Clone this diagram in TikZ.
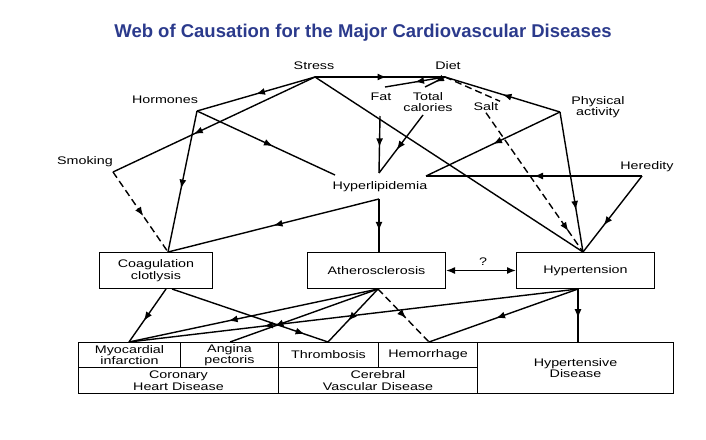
\documentclass[tikz,border=0pt]{standalone}
\usepackage{fontspec}
\setmainfont{Liberation Sans}[FakeStretch=1.3]
\newfontfamily\titlefont{Liberation Sans}
\usetikzlibrary{arrows.meta,decorations.markings}
\definecolor{titleblue}{HTML}{2B3A8C}
\begin{document}
\begin{tikzpicture}[x=1pt,y=-1pt,line width=1.4pt,
  lbl/.style={inner sep=0pt,font=\fontsize{11}{11.5}\selectfont,align=center},
  box/.style={draw,line width=1pt,inner sep=0pt,anchor=north west,font=\fontsize{11}{11.5}\selectfont,align=center},
  mid/.style={postaction={decorate,decoration={markings,mark=at position #1 with {\arrow{Latex[length=9pt,width=7pt]}}}}},
  mid/.default=0.5,
  both/.style={{Latex[length=9pt,width=7pt]}-{Latex[length=9pt,width=7pt]}},
  dsh/.style={dash pattern=on 7pt off 4pt}]
\useasboundingbox (0,0) rectangle (706,439);
\node[font=\titlefont\bfseries\fontsize{18.5}{20}\selectfont,text=titleblue] (title) at (363,33) {Web of Causation for the Major Cardiovascular Diseases};
% labels
\node[lbl] (stress) at (314,66) {Stress};
\node[lbl] (diet) at (448,66) {Diet};
\node[lbl] (hormones) at (165,100) {Hormones};
\node[lbl] (smoking) at (85,162) {Smoking};
\node[lbl] (fat) at (381,97) {Fat};
\node[lbl] (tcal) at (428,102) {Total\\calories};
\node[lbl,fill=white,inner sep=1pt] (salt) at (486,107) {Salt};
\node[lbl] (phys) at (598,107) {Physical\\activity};
\node[lbl] (hered) at (647,167) {Heredity};
\node[lbl] (hyperlip) at (380,187) {Hyperlipidemia};
\node[lbl] (q) at (483,262) {?};
% junctions
\coordinate (S) at (315,77);
\coordinate (D) at (445,77);
\coordinate (H) at (197,111);
\coordinate (Sm) at (113,172);
\coordinate (Fb) at (380,116);
\coordinate (Tc) at (423,115);
\coordinate (HLt) at (379,173);
\coordinate (HLh) at (335,175);
\coordinate (HLb) at (379,199);
\coordinate (PA) at (560,112);
\coordinate (HR) at (642,176);
\coordinate (HRl) at (426,176);
\coordinate (Fd) at (385,87);
\coordinate (Td) at (425,87);
% boxes
\node[box,minimum width=113pt,minimum height=36pt] (coag) at (99,252) {Coagulation\\clotlysis};
\node[box,minimum width=138pt,minimum height=36pt] (ath) at (307,252) {Atherosclerosis};
\node[box,minimum width=138pt,minimum height=36pt] (hyp) at (516,252) {Hypertension};
\node[box,minimum width=102pt,minimum height=25pt] (mi) at (78,342) {Myocardial\\infarction};
\node[box,minimum width=98pt,minimum height=25pt] (ang) at (180,342) {Angina\\pectoris};
\node[box,minimum width=100pt,minimum height=25pt] (thr) at (278,342) {Thrombosis};
\node[box,minimum width=99pt,minimum height=25pt] (hem) at (378,342) {Hemorrhage};
\node[box,minimum width=200pt,minimum height=26pt] (chd) at (78,367) {Coronary\\Heart Disease};
\node[box,minimum width=199pt,minimum height=26pt] (cvd) at (278,367) {Cerebral\\Vascular Disease};
\node[box,minimum width=196pt,minimum height=51pt] (hd) at (477,342) {Hypertensive\\Disease};
\coordinate (cg) at (168,252);
\coordinate (hT) at (583,252);
% top connectors
\draw[mid=0.55] (S) -- (D);
\draw[mid] (S) -- (H);
\draw[mid=0.6] (S) -- (Sm);
\draw (S) -- (hT);
\draw[dsh,mid=0.55] (Sm) -- (cg);
\draw[mid=0.55] (H) -- (cg);
\draw[mid=0.55] (H) -- (HLh);
\draw[mid] (D) -- (Fd);
\draw[mid] (D) -- (Td);
\draw[mid=0.55] (Fb) -- (HLt);
\draw[mid=0.6] (Tc) -- (HLt);
\draw[dsh] (D) -- (salt.north east);
\draw[dsh,mid=0.85] (salt.south) -- (hT);
\draw[mid=0.5] (PA) -- (D);
\draw[mid=0.5] (PA) -- (HRl);
\draw[mid=0.7] (PA) -- (hT);
\draw[mid=0.5] (HR) -- (HRl);
\draw[mid=0.65] (HR) -- (hT);
\draw[mid=0.6] (HLb) -- (ath.north -| HLb);
\draw[mid=0.5] (HLb) -- (cg);
\draw[both] (ath.east) -- (hyp.west);
% bottom connectors
\coordinate (cb) at ([xshift=67pt]coag.south west);
\coordinate (cb2) at ([xshift=73pt]coag.south west);
\coordinate (ab) at ([xshift=71pt]ath.south west);
\coordinate (hb) at ([xshift=62pt]hyp.south west);
\coordinate (miT) at ([xshift=51pt]mi.north west);
\coordinate (anT) at ([xshift=50pt]ang.north west);
\coordinate (thT) at ([xshift=50pt]thr.north west);
\coordinate (heT) at ([xshift=51pt]hem.north west);
\coordinate (hdT) at ([xshift=101pt]hd.north west);
\draw[mid=0.6] (cb) -- (miT);
\draw[mid=0.85] (cb2) -- (thT);
\draw[mid=0.6] (ab) -- (miT);
\draw[mid=0.7] (ab) -- (anT);
\draw[mid=0.6] (ab) -- (thT);
\draw[dsh,mid=0.55] (ab) -- (heT);
\draw[mid=0.7] (hb) -- (miT);
\draw[mid=0.55] (hb) -- (heT);
\draw[mid=0.55] (hb) -- (hdT);
\end{tikzpicture}
\end{document}
